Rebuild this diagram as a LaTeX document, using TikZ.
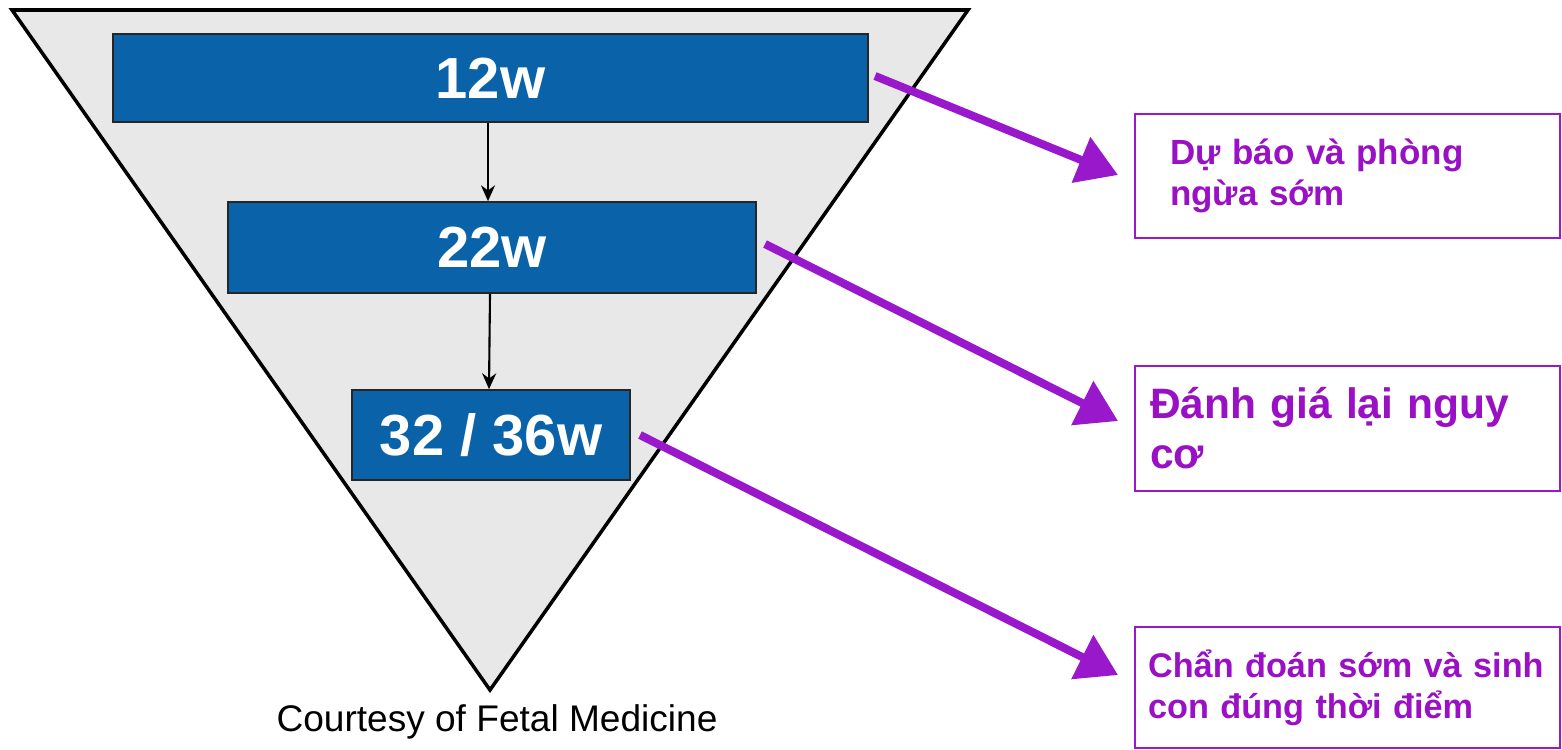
\documentclass[tikz,border=0pt]{standalone}
\usepackage{fontspec}
\setmainfont{Liberation Sans}
\usetikzlibrary{arrows.meta}
\definecolor{tri}{HTML}{E8E8E8}
\definecolor{wkblue}{HTML}{0A63A9}
\definecolor{purp}{HTML}{9A18CC}
\definecolor{purptext}{HTML}{9A10C4}
\tikzset{
  weekbox/.style={draw=black!85, line width=1pt, fill=wkblue, text=white,
    font=\bfseries\fontsize{33}{36}\selectfont, inner sep=0pt},
  outbox/.style={draw=purp, line width=1.4pt, fill=white, text=purptext,
    minimum width=8.5cm, align=left, font=\bfseries},
  downarrow/.style={-{Stealth[length=9pt,width=8pt]}, line width=1.2pt, black},
  purparrow/.style={-{Triangle[length=0.8cm,width=0.95cm]}, line width=4.6pt, purp}
}
\begin{document}
\begin{tikzpicture}[x=0.02cm, y=-0.02cm]
\useasboundingbox (0,0) rectangle (1562,750);
% triangle
\draw[line width=2pt, fill=tri, line join=miter] (12,10) -- (968,10) -- (490,690) -- cycle;
% week boxes
\node[weekbox, minimum width=15.1cm, minimum height=1.76cm] (w12) at (490.5,78) {12w};
\node[weekbox, minimum width=10.56cm, minimum height=1.82cm] (w22) at (492,247.5) {22w};
\node[weekbox, minimum width=5.56cm, minimum height=1.8cm] (w32) at (491,435) {32 / 36w};
\draw[downarrow] (w12.south -| 488,0) -- (w22.north -| 488,0);
\draw[downarrow] (w22.south -| 490,0) -- (w32.north -| 489,0);
% outcome boxes
\node[outbox, minimum height=2.48cm, text width=7.1cm, inner xsep=0.7cm,
  font=\bfseries\fontsize{19.9}{23.3}\selectfont] (oa) at (1347.5,176)
  {\mbox{Dự báo và phòng}\\\mbox{ngừa sớm}};
\node[outbox, minimum height=2.5cm, text width=7.9cm, inner xsep=0.3cm,
  font=\bfseries\fontsize{24.2}{28.5}\selectfont] (ob) at (1347.5,428.5)
  {\mbox{Đánh giá lại nguy}\\\mbox{cơ}};
\node[outbox, minimum height=2.42cm, text width=7.98cm, inner xsep=0.26cm,
  font=\bfseries\fontsize{19.5}{23.3}\selectfont] (oc) at (1347.5,687.5)
  {\mbox{Chẩn đoán sớm và sinh}\\\mbox{con đúng thời điểm}};
% connector endpoints
\coordinate (a1) at (875,76);
\coordinate (a2) at (1118,175);
\coordinate (b1) at (765,244);
\coordinate (b2) at (1118,421);
\coordinate (c1) at (640,435);
\coordinate (c2) at (1118,675);
\draw[purparrow] (a1) -- (a2);
\draw[purparrow] (b1) -- (b2);
\draw[purparrow] (c1) -- (c2);
% caption
\node[font=\fontsize{21.1}{24}\selectfont, text=black] (cap) at (497,722) {Courtesy of Fetal Medicine};
\end{tikzpicture}
\end{document}
